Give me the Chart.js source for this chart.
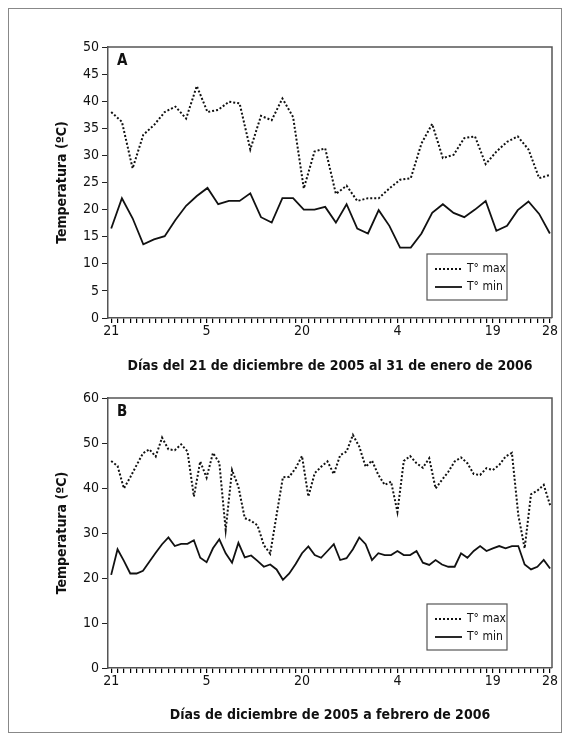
<!DOCTYPE html>
<html>
<head>
<meta charset="utf-8">
<script src="https://cdn.jsdelivr.net/npm/chart.js@4"></script>
<style>
    body {margin: 0; background: #fff;}
    #frame {position: absolute; left: 8px; top: 8px; width: 552px; height: 723px; border: 1px solid #888;}
    .panel {position: absolute; left: 0; width: 569px;}
</style>
</head>
<body>
<div id="frame"></div>
<div class="panel" style="top:0;height:380px"><canvas id="chartA"></canvas></div>
<div class="panel" style="top:360px;height:369px"><canvas id="chartB"></canvas></div>
<script>
// day offsets from 21 Dec and the labels shown under them
const tickDays = [0, 15, 30, 45, 60, 69];
const tickText = ["21", "5", "20", "4", "19", "28"];

// A: 21 dic 2005 - 31 ene 2006 (42 days)
const aMax = [38, 36.2, 27.6, 33.8, 35.6, 38, 39, 36.8, 42.8, 38, 38.4, 39.9, 39.6, 31.1, 37.3, 36.5, 40.5, 37.1, 23.9, 30.7,
    31.3, 22.9, 24.4, 21.6, 22.1, 22.1, 23.9, 25.5, 25.8, 32.2, 35.8, 29.5, 30.1, 33.2, 33.5, 28.4, 30.7, 32.5, 33.5, 31.1, 25.8, 26.4];
const aMin = [16.5, 22.1, 18.4, 13.6, 14.5, 15.1, 18.1, 20.7, 22.5, 24, 21, 21.6, 21.6, 23, 18.6, 17.6, 22.1, 22.1, 20, 20,
    20.5, 17.6, 21, 16.5, 15.6, 19.9, 17, 13, 13, 15.6, 19.4, 21, 19.4, 18.6, 20, 21.6, 16.1, 17, 19.9, 21.5, 19.2, 15.6];

// B: dic 2005 - feb 2006 (70 days)
const bMax = [46, 44.9, 39.9, 42.4, 45.1, 47.7, 48.6, 47, 51.2, 48.6, 48.4, 49.7, 48.1, 38.1, 45.9, 42.3, 47.8, 45.6, 30.7, 44,
    40.3, 33.3, 32.7, 31.7, 27.3, 25.4, 34, 42.4, 42.5, 44.4, 47.1, 38.1, 43.3, 44.7, 45.9, 43.1, 47.3, 48.1, 51.8, 49.2,
    44.7, 46.1, 42.9, 40.7, 41.4, 34.7, 46, 47.1, 45.5, 44.5, 46.6, 39.9, 41.8, 43.6, 45.9, 46.8, 45.5, 43.1, 42.9, 44.4,
    44, 45.1, 47, 47.8, 34, 26.6, 38.6, 39.4, 40.7, 36.2];
const bMin = [20.7, 26.4, 23.8, 21, 21, 21.6, 23.6, 25.6, 27.5, 29, 27.1, 27.6, 27.6, 28.4, 24.5, 23.5, 26.6, 28.6, 25.5, 23.4,
    27.8, 24.6, 25, 23.8, 22.5, 23, 21.9, 19.6, 21, 23.1, 25.5, 27, 25.1, 24.5, 26, 27.5, 24, 24.4, 26.4, 29,
    27.5, 24, 25.5, 25.1, 25.1, 26, 25.1, 25.1, 26, 23.4, 22.9, 24, 23, 22.5, 22.5, 25.5, 24.5, 26, 27.1, 26,
    26.6, 27.1, 26.6, 27.1, 27.1, 23, 21.9, 22.5, 24, 22.1];

const FONT = "'Liberation Sans Narrow', 'DejaVu Sans Condensed', sans-serif";
const INK = "#111";
const AXIS = "#555";

// frame on top/right, panel letter and the boxed legend inside the plot
const panelDecor = {
    id: "panelDecor",
    afterDatasetsDraw(chart, args, opts) {
        const {ctx, chartArea: a} = chart;
        ctx.save();
        ctx.strokeStyle = AXIS;
        ctx.lineWidth = 1.5;
        ctx.beginPath();
        ctx.moveTo(a.left, a.top);
        ctx.lineTo(a.right, a.top);
        ctx.lineTo(a.right, a.bottom);
        ctx.stroke();

        ctx.fillStyle = INK;
        ctx.font = "bold 15px " + FONT;
        ctx.textBaseline = "middle";
        ctx.fillText(opts.letter, a.left + 9, a.top + 14);

        const bx = a.right - 125, by = a.bottom - 64;
        ctx.lineWidth = 1.2;
        ctx.strokeStyle = AXIS;
        ctx.strokeRect(bx, by, 80, 46);
        ctx.font = "12px " + FONT;
        chart.data.datasets.forEach((ds, i) => {
            const y = by + 15 + i * 18;
            ctx.setLineDash(ds.borderDash || []);
            ctx.lineWidth = ds.borderWidth;
            ctx.strokeStyle = ds.borderColor;
            ctx.beginPath();
            ctx.moveTo(bx + 8, y);
            ctx.lineTo(bx + 35, y);
            ctx.stroke();
            ctx.setLineDash([]);
            ctx.fillText(ds.label, bx + 40, y);
        });
        ctx.restore();
    }
};

function toPoints(values) {
    return values.map((v, i) => ({x: i, y: v}));
}

function dayAxis(title, height) {
    return {
        type: "linear",
        min: -0.5,
        max: 69.3,
        afterBuildTicks: (scale) => {
            scale.ticks = [];
            for (let d = 0; d <= 69; d++) scale.ticks.push({value: d});
        },
        ticks: {
            autoSkip: false,
            maxRotation: 0,
            padding: 0,
            color: INK,
            font: {family: FONT, size: 14},
            callback: (v) => {
                const k = tickDays.indexOf(v);
                return k >= 0 ? tickText[k] : "";
            }
        },
        grid: {drawOnChartArea: false, color: "#000", tickColor: "#000", tickLength: 5, tickWidth: 1.2, lineWidth: 1.2},
        border: {display: true, color: AXIS, width: 1.5},
        title: {display: true, text: title, color: INK, font: {family: FONT, size: 14, weight: "bold"}, padding: {top: 4, bottom: 5}},
        afterFit: (scale) => { scale.height = height; }
    };
}

function tempAxis(max, step) {
    return {
        min: 0,
        max: max,
        ticks: {stepSize: step, color: INK, padding: 3, font: {family: FONT, size: 14}},
        grid: {drawOnChartArea: false, color: "#222", tickLength: 6, lineWidth: 1},
        border: {display: true, color: AXIS, width: 1.5},
        title: {display: true, text: "Temperatura (ºC)", color: INK, font: {family: FONT, size: 14, weight: "bold"}, padding: {top: 6, bottom: 4}},
        afterFit: (scale) => { scale.width = 60; }
    };
}

function lineSets(maxVals, minVals, axisId) {
    return [{
        label: "T° max",
        data: toPoints(maxVals),
        xAxisID: axisId,
        borderColor: INK,
        borderWidth: 2,
        borderDash: [2, 2],
        pointRadius: 0,
        tension: 0,
        fill: false
    }, {
        label: "T° min",
        data: toPoints(minVals),
        xAxisID: axisId,
        borderColor: INK,
        borderWidth: 1.8,
        pointRadius: 0,
        tension: 0,
        fill: false
    }];
}

const common = {
    responsive: true,
    maintainAspectRatio: false,
    animation: false,
    plugins: {legend: {display: false}, tooltip: {enabled: false}}
};

// chart A: 42 daily values spread over the full axis width, as in the figure
new Chart(document.getElementById("chartA"), {
    type: "line",
    data: {datasets: lineSets(aMax, aMin, "xd")},
    options: {
        ...common,
        layout: {padding: {left: 48, right: 17, top: 47, bottom: 0}},
        scales: {
            x: dayAxis("Días del 21 de diciembre de 2005 al 31 de enero de 2006", 62),
            xd: {type: "linear", display: false, min: -0.3, max: 41.2},
            y: tempAxis(50, 5)
        },
        plugins: {...common.plugins, panelDecor: {letter: "A"}}
    },
    plugins: [panelDecor]
});

new Chart(document.getElementById("chartB"), {
    type: "line",
    data: {datasets: lineSets(bMax, bMin, "x")},
    options: {
        ...common,
        layout: {padding: {left: 48, right: 17, top: 38, bottom: 0}},
        scales: {
            x: dayAxis("Días de diciembre de 2005 a febrero de 2006", 61),
            y: tempAxis(60, 10)
        },
        plugins: {...common.plugins, panelDecor: {letter: "B"}}
    },
    plugins: [panelDecor]
});
</script>
</body>
</html>
